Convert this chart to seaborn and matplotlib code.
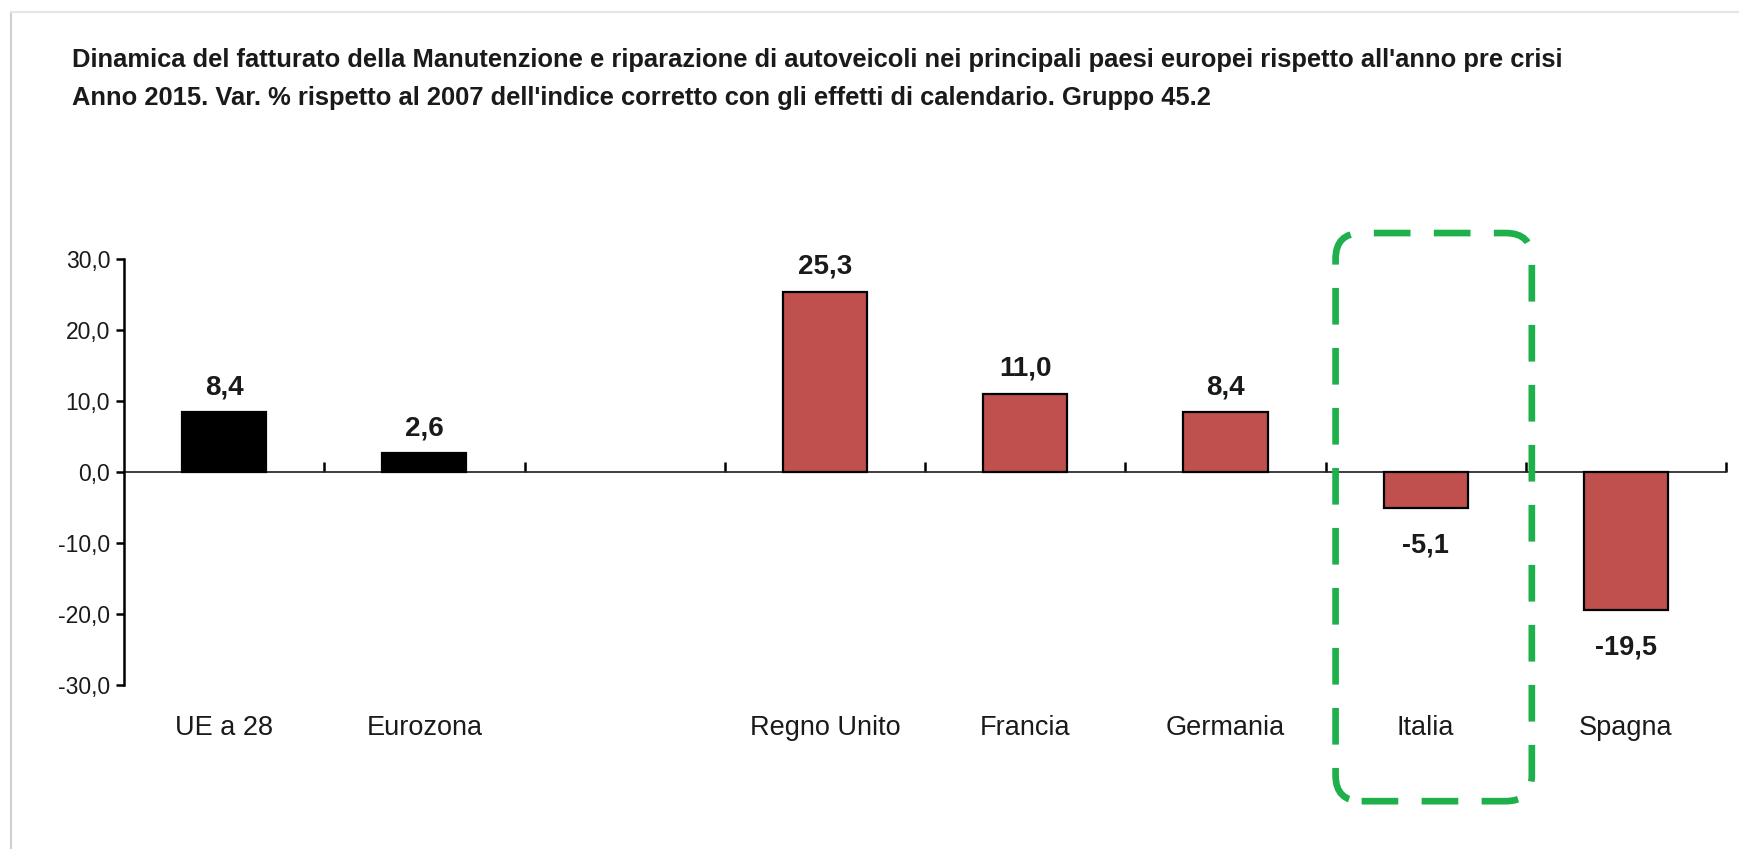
import numpy as np
import pandas as pd
import matplotlib
matplotlib.use("Agg")
import matplotlib.pyplot as plt
import seaborn as sns
from matplotlib import font_manager
from matplotlib.patches import FancyBboxPatch
from matplotlib.lines import Line2D

# =============================================
# data
categories = ['UE a 28', 'Eurozona', ' ', 'Regno Unito', 'Francia', 'Germania', 'Italia', 'Spagna']
values = [8.4, 2.6, np.nan, 25.3, 11.0, 8.4, -5.1, -19.5]
value_labels = ['8,4', '2,6', '', '25,3', '11,0', '8,4', '-5,1', '-19,5']
bar_colors = ['#000000', '#000000', '#FFFFFF', '#C0504D', '#C0504D', '#C0504D', '#C0504D', '#C0504D']
yticks = [-30, -20, -10, 0, 10, 20, 30]
ytick_labels = ['-30,0', '-20,0', '-10,0', '0,0', '10,0', '20,0', '30,0']
highlight = 'Italia'

title_1 = ("Dinamica del fatturato della Manutenzione e riparazione di autoveicoli "
           "nei principali paesi europei rispetto all'anno pre crisi")
title_2 = ("Anno 2015. Var. % rispetto al 2007 dell'indice corretto con gli effetti "
           "di calendario. Gruppo 45.2")

# =============================================
# fonts
sns.set_theme(style="white")


def has_font(name):
    try:
        font_manager.findfont(name, fallback_to_default=False)
        return True
    except Exception:
        return False


narrow = 'Liberation Sans Narrow' if has_font('Liberation Sans Narrow') else 'Liberation Sans'
plt.rcParams['font.family'] = ['Liberation Sans', 'DejaVu Sans']
textColor = '#1a1a1a'

df = pd.DataFrame({'paese': categories, 'var': values})
palette = dict(zip(categories, bar_colors))

# =============================================
# figure
f = plt.figure(figsize=(17.4, 8.49), dpi=100)
ax = f.add_axes([0.0713, 0.1935, 0.9207, 0.5019])

sns.barplot(data=df, x='paese', y='var', hue='paese', order=categories, palette=palette,
            saturation=1, width=0.42, edgecolor='black', linewidth=1.6, legend=False, ax=ax)

ax.set(xlim=[-0.5, len(categories) - 0.5], ylim=[-30, 30])
ax.set_xlabel('')
ax.set_ylabel('')

# spines: y axis on the left, zero line across
for s in ['top', 'right', 'bottom']:
    ax.spines[s].set_visible(False)
ax.spines['left'].set_color('black')
ax.spines['left'].set_linewidth(1.8)

ax.set_yticks(yticks)
ax.set_yticklabels(ytick_labels, fontsize=16.5, color=textColor, family=narrow)
ax.tick_params(axis='y', direction='out', length=6, width=1.8, color='black', pad=4, left=True)

# category labels at the bottom
ax.set_xticks(range(len(categories)))
ax.set_xticklabels(categories, fontsize=19.5, color=textColor)
for lab in ax.get_xticklabels():
    lab.set_family(narrow if lab.get_text() not in ['Italia', 'Spagna'] else 'Liberation Sans')
ax.tick_params(axis='x', length=0, pad=22)

# zero line with ticks between categories
zero_ax = ax.secondary_xaxis(0.5)
zero_ax.spines['bottom'].set_linewidth(1.8)
zero_ax.set_xticks(np.arange(0.5, len(categories), 1.0))
zero_ax.set_xticklabels([])
zero_ax.tick_params(axis='x', direction='out', length=7, width=1.8, color='black')

# value labels above positive bars, below negative ones
for i, (v, lab) in enumerate(zip(values, value_labels)):
    if np.isnan(v):
        continue
    if v >= 0:
        ax.annotate(lab, xy=(i, v), xytext=(0, 18), textcoords='offset points',
                    ha='center', va='center', fontsize=20, fontweight='bold',
                    color=textColor, family=narrow, annotation_clip=False)
    else:
        ax.annotate(lab, xy=(i, v), xytext=(0, -27), textcoords='offset points',
                    ha='center', va='center', fontsize=19.5, fontweight='bold',
                    color=textColor, family='Liberation Sans', annotation_clip=False)

# dashed green frame around Italia
idx = categories.index(highlight)
frame = FancyBboxPatch((idx - 0.45, -46.4), 0.98, 80.0,
                       boxstyle="round,pad=0,rounding_size=0.13",
                       mutation_aspect=28, transform=ax.transData,
                       facecolor='none', edgecolor='#1DB04B', linewidth=4.8,
                       linestyle=(0, (5.5, 3.5)), clip_on=False, zorder=5)
ax.add_patch(frame)

# title
f.text(0.0414, 0.929, title_1, fontsize=18.4, fontweight='bold', color=textColor, va='center', family=narrow)
f.text(0.0414, 0.885, title_2, fontsize=18.4, fontweight='bold', color=textColor, va='center', family=narrow)

# light grey frame of the original panel
f.add_artist(Line2D([0.0062, 0.0062], [0.0, 0.986], transform=f.transFigure, color='#D0D0D0', linewidth=1.5))
f.add_artist(Line2D([0.0062, 1.0], [0.986, 0.986], transform=f.transFigure, color='#E6E6E6', linewidth=1.5))

plt.savefig('out.png', dpi=100)
